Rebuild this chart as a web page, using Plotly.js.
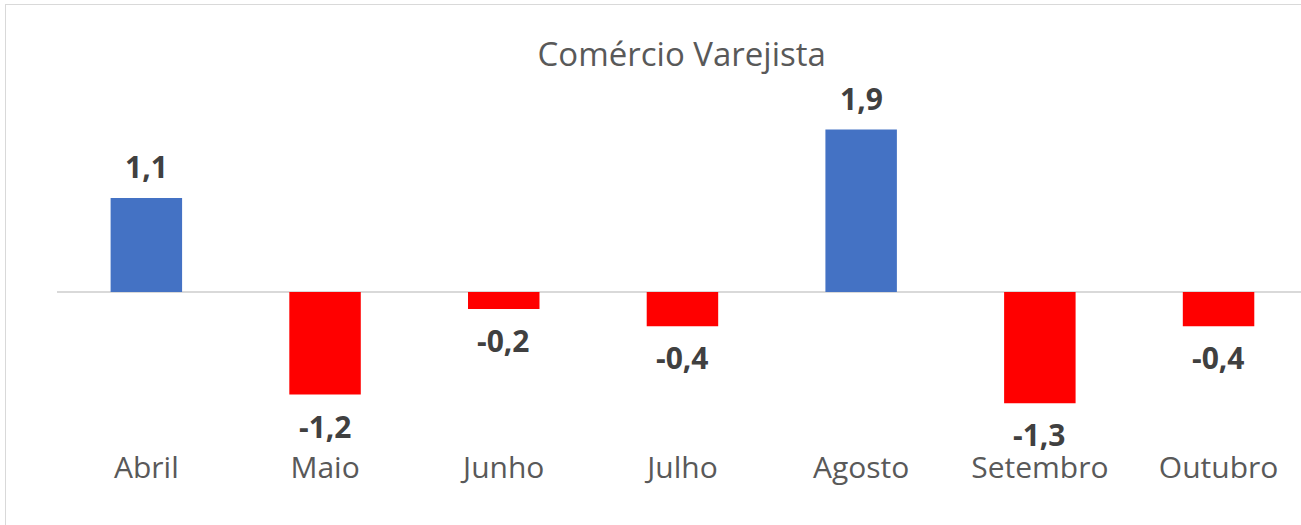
<!DOCTYPE html>
<html>
<head>
<meta charset="utf-8">
<script src="https://cdn.plot.ly/plotly-3.0.1.min.js"></script>
<style>
html,body{margin:0;padding:0;background:#fff;}
#wrap{position:relative;width:1301px;height:525px;overflow:hidden;}
#frame{position:absolute;left:5px;top:4px;width:1400px;height:600px;border-left:1px solid #d9d9d9;border-top:1px solid #d9d9d9;pointer-events:none;}
#chart{position:absolute;left:0;top:0;width:1301px;height:525px;}
</style>
</head>
<body>
<div id="wrap">
<div id="chart"></div>
<div id="frame"></div>
</div>
<script>
const categories = ["Abril", "Maio", "Junho", "Julho", "Agosto", "Setembro", "Outubro"];
const values = [1.1, -1.2, -0.2, -0.4, 1.9, -1.3, -0.4];
const labels = ["1,1", "-1,2", "-0,2", "-0,4", "1,9", "-1,3", "-0,4"];
const positiveColor = "#4472C4";
const negativeColor = "#FF0000";

const FONT = "'Open Sans', Lato, sans-serif";
const colors = values.map(v => v >= 0 ? positiveColor : negativeColor);

const trace = {
  type: "bar",
  x: categories,
  y: values,
  marker: {color: colors, line: {width: 0}},
  hoverinfo: "skip"
};

const annotations = categories.map((c, i) => ({
  x: c,
  y: values[i],
  xref: "x",
  yref: "y",
  text: "<b>" + labels[i] + "</b>",
  showarrow: false,
  borderpad: 0,
  yanchor: values[i] >= 0 ? "bottom" : "top",
  yshift: values[i] >= 0 ? 10 : -10,
  font: {family: FONT, size: 30, color: "#404040"}
}));

const pxPerUnit = 85.5;
const zeroY = 292;
const plotTop = 60;
const plotBottom = 443;
const yMax = (zeroY - plotTop) / pxPerUnit;
const yMin = -(plotBottom - zeroY) / pxPerUnit;

const marginL = 57;
const plotWidth = 1301 - marginL;
const catStep = 178.7;

const layout = {
  width: 1301,
  height: 525,
  margin: {l: marginL, r: 0, t: plotTop, b: 525 - plotBottom, pad: 0},
  paper_bgcolor: "rgba(0,0,0,0)",
  plot_bgcolor: "rgba(0,0,0,0)",
  title: {
    text: "Comércio Varejista",
    x: 0.524,
    xanchor: "center",
    y: 1 - 54/525,
    yanchor: "middle",
    font: {family: FONT, size: 33, color: "#595959"}
  },
  bargap: 0.6,
  showlegend: false,
  xaxis: {
    type: "category",
    range: [-0.5, -0.5 + plotWidth / catStep],
    showgrid: false,
    showline: false,
    zeroline: false,
    ticks: "",
    ticklabelstandoff: 4,
    tickfont: {family: FONT, size: 30, color: "#595959"},
    fixedrange: true
  },
  yaxis: {
    range: [yMin, yMax],
    showgrid: false,
    showticklabels: false,
    showline: false,
    zeroline: true,
    zerolinecolor: "#d9d9d9",
    zerolinewidth: 2,
    ticks: "",
    fixedrange: true
  },
  annotations: annotations
};

Plotly.newPlot("chart", [trace], layout, {displayModeBar: false, staticPlot: true});
</script>
</body>
</html>
